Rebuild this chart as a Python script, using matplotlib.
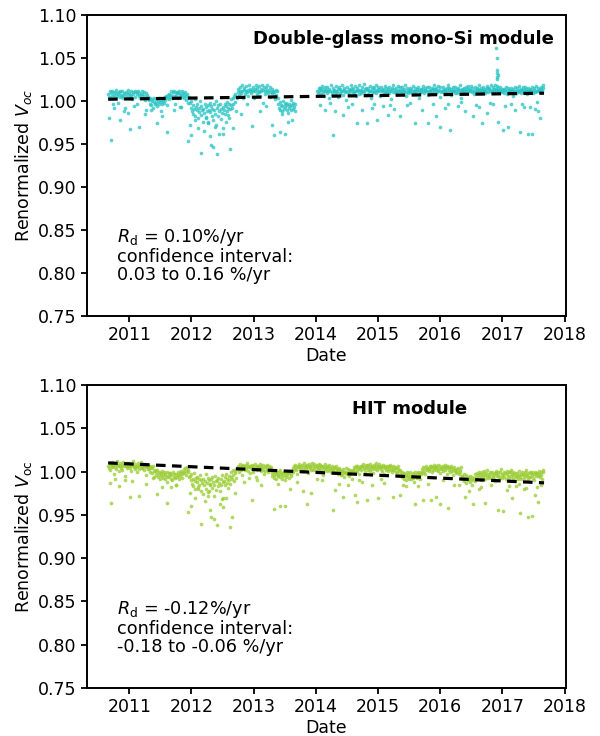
import numpy as np
import matplotlib
matplotlib.use("Agg")
import matplotlib.pyplot as plt

# ---------------------------------------------------------------------------
# Daily-ish renormalized Voc readings, one value every 4 days starting
# 2010-08-29 (decimal year 2010.66). Values are deviations from 1.000 in
# units of 0.001; None marks days without data.
# ---------------------------------------------------------------------------
START_YEAR = 2010.66
STEP_DAYS = 4

mono_dev = [
    8, 5, 11, 3, 9, 6, 12, -4, 7, 10,
    4, 9, 13, 6, -2, 8, 10, 5, 11, 7,
    6, 12, 3, 9, 7, -8, 10, 5, 8, 13,
    9, 4, 7, 11, 6, 2, 10, 8, -6, 12,
    5, 10, 8, -3, 12, 6, 9, 4, 7, 11,
    8, 3, 10, 6, 1, 9, -10, 7, 5, 4,
    1, -3, 4, -5, 0, 2, -8, -1, 3, -4,
    -2, 2, -6, 0, -3, 4, -1, -12, 1, -4,
    0, 3, -2, 5, 1, 6, -5, 4, 7, 2,
    8, 5, 11, 7, 3, 10, 6, 12, -3, 9,
    6, 10, 4, 9, 12, 7, -7, 8, 5, 11,
    9, 3, 7, 10, 1, 6, 8, -2, 4, 5,
    -2, -8, 0, -12, -5, -15, -9, 2, -18, -7,
    -11, -4, -20, -8, -13, 0, -16, -6, -10, -24,
    -9, -14, -3, -19, -7, -12, -26, -5, -11, -2,
    -13, -6, -17, -9, -22, -4, -10, -15, 0, -28,
    -8, -18, -5, -12, -3, -21, -9, -14, -31, -7,
    -10, -4, -15, -6, -1, -12, -8, -20, -3, -9,
    -5, 2, -8, 4, -3, 6, -1, 8, -12, 3,
    10, 14, 7, 16, 12, 9, 18, 11, 3, 13,
    15, 8, 12, 17, 10, 13, 6, 19, 11, 14,
    9, 13, 16, 11, 4, 14, 12, 18, 8, 15,
    12, 17, 10, 6, 14, 11, 19, 13, -2, 16,
    11, 8, 15, 12, 18, 9, 13, 5, 16, 10,
    14, 9, 12, 6, 10, 2, 13, 7, 11, 4,
    -3, -8, -1, -10, -5, -12, -6, 0, -9, -4,
    -7, -2, -11, -5, -14, -3, -8, -6, 1, -10,
    -5, -9, -2, -7, -12, -4, None, None, None, None,
    None, None, None, None, None, None, None, None, None, None,
    None, None, None, None, None, None, None, None, None, None,
    None, None, None, None, None, None, None, 12, 9, 15,
    11, 15, 8, 13, 17, 10, 14, 6, 12, 16,
    13, 9, 16, 11, 3, 14, 12, 18, 10, 7,
    15, 11, 13, 8, 17, 12, 10, 14, 5, 16,
    9, 14, 12, 18, 11, 7, 15, 13, 10, 1,
    12, 16, 10, 14, 8, 13, 19, 11, 15, 9,
    14, 10, 17, 12, 6, 15, 11, 13, 18, 8,
    11, 13, 9, 16, 12, 20, 10, 14, 7, 15,
    13, 8, 15, 11, 17, 12, 4, 14, 10, 16,
    10, 15, 12, 18, 9, 13, 11, 16, 14, 6,
    16, 11, 13, 7, 14, 10, 17, 12, 15, 9,
    12, 14, 9, 16, 11, 2, 13, 15, 10, 18,
    14, 10, 15, 12, 8, 17, 11, 13, 16, 9,
    11, 16, 13, 9, 14, 12, 19, 10, 6, 15,
    13, 9, 12, 15, 10, 14, 11, 17, 8, 12,
    15, 12, 8, 14, 11, 16, 3, 13, 10, 14,
    10, 14, 12, 17, 9, 13, 15, 11, 16, 7,
    12, 16, 11, 13, 8, 15, 10, 14, 18, 12,
    14, 9, 15, 12, 17, 11, 13, 5, 16, 10,
    11, 13, 16, 10, 14, 12, 9, 15, 11, 19,
    13, 15, 10, 14, 7, 12, 16, 11, 13, 9,
    16, 12, 14, 9, 15, 11, 18, 13, 4, 14,
    12, 10, 15, 13, 11, 16, 9, 14, 12, 17,
    14, 11, 13, 17, 10, 15, 12, 8, 16, 13,
    10, 15, 12, 14, 18, 11, 13, 9, 15, 12,
    13, 16, 11, 14, 9, 12, 17, 15, 10, 14,
    15, 12, 18, 13, 10, 16, 14, 11, 19, 13,
    14, 17, 12, 15, 11, 13, 16, 10, 14, 12,
    11, 14, 9, 13, 16, 12, 8, 15, 10, 13,
    13, 10, 15, 12, 6, 14, 11, 16, 12, 9,
    12, 15, 10, 13, 17, 11, 14, 9, 13, 16,
    10, 13, 16, 11, 14, 8, 12, 15, 11, 13,
    14, 11, 12, 16, 9, 13, 15, 10, 12, 17,
    12, 15, 11, 13, 10, 14, 16, 12, 18, 15,
]

hit_dev = [
    7, 4, 10, 2, 8, 5, 11, 6, -3, 9,
    5, 9, 3, 12, 6, 8, 1, 10, 7, 4,
    8, 2, 11, 6, 9, -5, 7, 4, 10, 6,
    6, 10, 4, 8, 1, 9, 7, 12, 5, 3,
    9, 5, 7, -1, 10, 6, 3, 8, 11, 4,
    4, 8, 6, 2, 9, 5, -4, 7, 3, 6,
    3, 6, 0, 5, -2, 4, 7, 1, -6, 2,
    -1, -4, 2, -6, -3, 0, -8, -2, -5, 1,
    -4, -7, -1, -9, -3, -5, 0, -12, -6, -2,
    -5, -2, -8, -4, -10, -1, -6, -3, -7, -15,
    -3, -6, 0, -4, -9, -2, -5, 1, -7, -3,
    0, 3, -2, 4, -4, 1, 5, -1, 2, -6,
    -5, -10, -3, -14, -8, -17, -2, -11, -20, -7,
    -12, -6, -18, -9, -15, -4, -22, -10, -13, -26,
    -8, -16, -11, -3, -20, -13, -7, -24, -10, -15,
    -14, -9, -19, -6, -12, -28, -16, -5, -11, -21,
    -10, -17, -7, -13, -22, -9, -15, -4, -30, -12,
    -11, -6, -16, -3, -13, -8, -19, -10, -5, -14,
    -6, 0, -9, 2, -4, -11, 1, -2, -7, 3,
    3, 7, -1, 5, 9, 2, 6, -4, 8, 4,
    6, 2, 8, 4, 10, 1, 5, 7, -2, 6,
    4, 8, 0, 6, 3, 9, 5, -6, 7, 2,
    7, 3, 5, 9, 1, 6, 4, 8, 2, -3,
    5, 1, 7, 3, 8, -1, 6, 4, 2, 5,
    -2, -5, 1, -4, -7, 0, -3, -9, -1, -5,
    -4, -1, -6, 2, -3, -8, -2, -5, 0, -10,
    -3, -6, 0, -4, -1, -7, -2, 1, -5, -3,
    1, 4, -1, 6, 3, 8, 2, 5, -3, 7,
    5, 9, 3, 6, 1, 8, 4, 10, 2, 6,
    7, 3, 8, 5, -2, 9, 4, 6, 2, 10,
    6, 2, 9, 4, 7, 1, 8, 5, 3, 9,
    4, 8, 2, 7, 5, -4, 6, 3, 9, 5,
    3, 6, 1, 5, 8, 2, 4, -1, 7, 3,
    2, 5, -1, 4, 0, 6, 3, -3, 2, 4,
    -1, 2, -4, 1, -3, 3, -6, 0, -2, 4,
    0, -3, 3, -1, -5, 2, -2, 1, -8, 1,
    2, 5, -1, 4, 7, 1, 6, 3, -3, 5,
    4, 7, 2, 6, 9, 3, 5, 0, 8, 4,
    6, 2, 8, 4, 1, 9, 5, 3, 7, -2,
    5, 8, 3, 6, 10, 2, 7, 4, 9, 5,
    3, 7, 1, 5, 8, -3, 6, 4, 2, 7,
    4, 1, 6, 3, 8, 2, 5, -1, 7, 3,
    2, 5, 0, 4, -2, 3, 6, 1, -4, 2,
    -3, -6, -1, -5, -8, -2, -4, -10, -5, 0,
    -6, -3, -8, -1, -5, -9, -4, -7, -2, -12,
    -4, -1, -6, -3, -7, 0, -5, -2, -8, -3,
    0, 3, -2, 5, 1, 4, -3, 6, 2, 3,
    4, 1, 6, 3, 7, -1, 5, 2, 8, 4,
    5, 2, 7, 4, 1, 8, 3, -2, 6, 4,
    3, 6, 1, 5, 8, 2, 4, 7, -3, 5,
    2, 5, 0, 4, 6, 1, -4, 3, 5, 2,
    1, -2, 3, 0, 4, -3, 2, -1, 5, -5,
    -5, -9, -3, -11, -7, -4, -13, -8, -6, -10,
    -8, -12, -5, -9, -15, -6, -10, -7, -3, -11,
    -6, -2, -8, -4, -1, -7, -3, -10, -5, 0,
    -3, -6, 1, -4, -8, -2, -5, 2, -7, -3,
    -5, -1, -7, -3, 0, -6, -4, -9, -2, 1,
    -2, -5, 0, -4, -8, -1, -6, 3, -3, -7,
    -4, 0, -6, -2, -9, -3, 1, -5, -7, -1,
    -1, -5, 2, -3, -7, 0, -4, -11, -2, -6,
    -5, -2, -8, -4, 1, -6, -3, -9, 0, -4,
    -3, -7, -1, -5, 2, -4, -8, -2, -6, 0,
    -6, -2, -4, 0, -7, -3, -10, -1, -5, -2,
    -2, -5, 1, -3, -6, 0, -4, -8, -1, 2,
]

# Scattered low (and spiking) days outside the main band
mono_out_year = [
    2010.68, 2010.71, 2010.85, 2010.92, 2011.01, 2011.16, 2011.25, 2011.44,
    2011.52, 2011.60, 2011.72, 2011.95, 2011.97, 2012.00, 2012.05, 2012.10,
    2012.16, 2012.20, 2012.27, 2012.30, 2012.32, 2012.34, 2012.38, 2012.41,
    2012.45, 2012.51, 2012.55, 2012.62, 2012.66, 2012.80, 2012.97, 2013.10,
    2013.29, 2013.32, 2013.42, 2013.50, 2013.55, 2013.61, 2014.07, 2014.15,
    2014.28, 2014.31, 2014.44, 2014.52, 2014.66, 2014.74, 2014.82, 2014.90,
    2014.98, 2015.08, 2015.16, 2015.25, 2015.35, 2015.47, 2015.59, 2015.70,
    2015.81, 2015.94, 2016.00, 2016.08, 2016.16, 2016.28, 2016.40, 2016.53,
    2016.62, 2016.67, 2016.75, 2016.85, 2016.905, 2016.908, 2016.912,
    2016.915, 2016.918, 2016.921, 2016.925, 2016.93, 2017.01, 2017.09,
    2017.20, 2017.28, 2017.35, 2017.41, 2017.47, 2017.52, 2017.58, 2017.60,
    2010.75, 2010.98, 2011.35, 2011.83, 2012.24, 2012.58, 2012.90, 2013.20,
    2013.46, 2014.22, 2014.58, 2014.94, 2015.20, 2015.52, 2015.88, 2016.12,
    2016.34, 2016.58, 2016.80, 2017.05, 2017.14, 2017.31, 2017.44, 2017.55,
]
mono_out_voc = [
    0.980, 0.955, 0.978, 0.988, 0.967, 0.970, 0.985, 0.974,
    0.983, 0.964, 0.990, 0.954, 0.972, 0.960, 0.978, 0.968,
    0.939, 0.965, 0.975, 0.959, 0.949, 0.947, 0.970, 0.938,
    0.962, 0.962, 0.975, 0.944, 0.968, 0.985, 0.971, 0.988,
    0.972, 0.960, 0.964, 0.962, 0.975, 0.978, 0.995, 0.990,
    0.960, 0.988, 0.984, 0.993, 0.974, 0.990, 0.974, 0.992,
    0.978, 0.994, 0.984, 0.991, 0.982, 0.995, 0.974, 0.990,
    0.974, 0.982, 0.970, 0.992, 0.966, 0.994, 0.988, 0.982,
    0.993, 0.974, 0.986, 0.996, 1.061, 1.050, 1.036,
    1.032, 1.028, 1.025, 1.030, 0.976, 0.966, 0.970,
    0.990, 0.964, 0.993, 0.961, 0.962, 0.991, 0.988, 0.980,
    0.992, 0.986, 0.990, 0.993, 0.980, 0.984, 0.997, 0.994,
    0.985, 0.998, 0.996, 0.997, 0.995, 0.998, 0.996, 0.997,
    0.999, 0.995, 0.998, 0.994, 0.996, 0.997, 0.993, 0.999,
]

hit_out_year = [
    2010.69, 2010.71, 2010.83, 2010.93, 2011.01, 2011.16, 2011.27, 2011.44,
    2011.53, 2011.60, 2011.75, 2011.95, 2011.98, 2012.00, 2012.06, 2012.11,
    2012.16, 2012.21, 2012.26, 2012.30, 2012.32, 2012.37, 2012.41, 2012.46,
    2012.51, 2012.56, 2012.62, 2012.65, 2012.70, 2012.85, 2012.97, 2013.12,
    2013.32, 2013.42, 2013.50, 2013.58, 2013.80, 2013.86, 2013.93, 2014.10,
    2014.28, 2014.31, 2014.44, 2014.52, 2014.63, 2014.66, 2014.75, 2014.82,
    2014.91, 2015.00, 2015.10, 2015.24, 2015.35, 2015.45, 2015.59, 2015.73,
    2015.80, 2015.86, 2015.94, 2016.00, 2016.13, 2016.22, 2016.40, 2016.46,
    2016.53, 2016.62, 2016.72, 2016.82, 2016.93, 2017.01, 2017.08, 2017.15,
    2017.22, 2017.28, 2017.35, 2017.41, 2017.47, 2017.52, 2017.58, 2017.62,
    2010.77, 2011.05, 2011.38, 2011.67, 2012.28, 2012.49, 2012.93, 2013.05,
    2013.39, 2013.70, 2014.02, 2014.38, 2014.70, 2015.05, 2015.40, 2015.64,
    2016.05, 2016.30, 2016.66, 2016.88, 2017.11, 2017.26, 2017.38, 2017.56,
]
hit_out_voc = [
    0.987, 0.964, 0.983, 0.990, 0.971, 0.972, 0.986, 0.974,
    0.982, 0.964, 0.985, 0.953, 0.975, 0.960, 0.970, 0.980,
    0.940, 0.966, 0.972, 0.956, 0.948, 0.945, 0.938, 0.963,
    0.959, 0.970, 0.936, 0.948, 0.975, 0.988, 0.967, 0.985,
    0.957, 0.960, 0.960, 0.980, 0.977, 0.962, 0.975, 0.990,
    0.956, 0.979, 0.971, 0.985, 0.973, 0.965, 0.988, 0.967,
    0.985, 0.969, 0.987, 0.971, 0.973, 0.983, 0.962, 0.967,
    0.986, 0.967, 0.971, 0.962, 0.958, 0.984, 0.971, 0.978,
    0.962, 0.980, 0.964, 0.984, 0.956, 0.954, 0.979, 0.969,
    0.983, 0.952, 0.980, 0.948, 0.949, 0.973, 0.965, 0.985,
    0.991, 0.989, 0.993, 0.982, 0.978, 0.968, 0.993, 0.990,
    0.986, 0.988, 0.991, 0.986, 0.990, 0.992, 0.984, 0.983,
    0.990, 0.985, 0.982, 0.989, 0.983, 0.986, 0.981, 0.982,
]

# Linear fits (end points)
trend_years = [2010.66, 2017.67]
mono_trend = [1.002, 1.009]
hit_trend = [1.010, 0.987]

panels = [
    dict(dev=mono_dev, out_year=mono_out_year, out_voc=mono_out_voc,
         trend=mono_trend, color="#27c2c2",
         title="Double-glass mono-Si module", title_x=0.975, title_ha="right",
         ylabel="Renormalized $V_{oc}$",
         note="$R_\\mathrm{d}$ = 0.10%/yr\nconfidence interval:\n0.03 to 0.16 %/yr",
         rect=[0.145, 0.5707, 0.798, 0.409]),
    dict(dev=hit_dev, out_year=hit_out_year, out_voc=hit_out_voc,
         trend=hit_trend, color="#98cc30",
         title="HIT module", title_x=0.553, title_ha="left",
         ylabel="Renormalized $V_{\\mathrm{oc}}$",
         note="$R_\\mathrm{d}$ = -0.12%/yr\nconfidence interval:\n-0.18 to -0.06 %/yr",
         rect=[0.145, 0.0652, 0.798, 0.4117]),
]

fig = plt.figure(figsize=(6.0, 7.36), dpi=100)

for p in panels:
    ax = fig.add_axes(p["rect"])
    dev = np.array([np.nan if v is None else v for v in p["dev"]], dtype=float)
    years = START_YEAR + STEP_DAYS * np.arange(len(dev)) / 365.25
    voc = 1.0 + dev / 1000.0

    ax.scatter(years, voc, s=7, color=p["color"], alpha=0.75,
               linewidths=0, zorder=2)
    ax.scatter(p["out_year"], p["out_voc"], s=7, color=p["color"],
               alpha=0.75, linewidths=0, zorder=2)
    ax.plot(trend_years, p["trend"], color="black", lw=2.3,
            dashes=(3, 2), zorder=3)

    ax.set_xlim(2010.32, 2018.02)
    ax.set_ylim(0.75, 1.10)
    ax.set_xticks(range(2011, 2019))
    ax.set_xticklabels([str(y) for y in range(2011, 2019)])
    ax.set_yticks(np.arange(0.75, 1.1001, 0.05))
    ax.set_yticklabels([f"{t:.2f}" for t in np.arange(0.75, 1.1001, 0.05)])
    ax.tick_params(labelsize=12.5, width=1.3, length=4)
    for s in ax.spines.values():
        s.set_linewidth(1.4)

    ax.set_xlabel("Date", fontsize=12.5, labelpad=2)
    ax.set_ylabel(p["ylabel"], fontsize=12.5, labelpad=3)

    ax.text(p["title_x"], 0.92, p["title"], transform=ax.transAxes,
            ha=p["title_ha"], va="center", fontsize=13, fontweight="bold")
    ax.text(0.063, 0.295, p["note"], transform=ax.transAxes,
            ha="left", va="top", fontsize=12.7, linespacing=1.0)

fig.savefig("out.png", dpi=100)
